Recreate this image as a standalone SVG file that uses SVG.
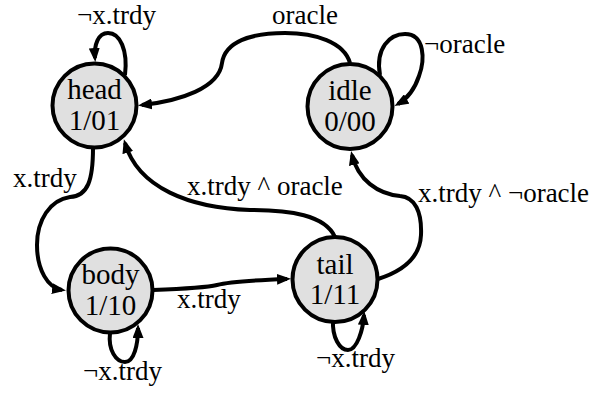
<svg xmlns="http://www.w3.org/2000/svg" width="592" height="394" viewBox="0 0 592 394">
  <style>
    .state circle { fill: #e0e0e0; stroke: #000; stroke-width: 4; }
    .state text { font-family: 'Liberation Serif', 'DejaVu Serif', 'Times New Roman', serif; font-size: 29px; text-anchor: middle; fill: #000; }
    .edge { fill: none; stroke: #000; stroke-width: 4; marker-end: url(#arrow); }
    .label { font-family: 'Liberation Serif', 'DejaVu Serif', 'Times New Roman', serif; font-size: 27px; fill: #000; }
  </style>
  <defs>
    <marker id="arrow" markerUnits="userSpaceOnUse" markerWidth="14" markerHeight="11" refX="10" refY="5.5" orient="auto">
      <path d="M0,0 L14,5.5 L0,11 z" fill="#000"/>
    </marker>
  </defs>
  <rect width="592" height="394" fill="#fff"/>

  <g id="connectors">
    <!-- head self loop -->
    <path class="edge" d="M125,75 C128,50 120,33 108,33 C98,33 94,45 95,58"/>
    <!-- idle -> head (oracle) -->
    <path class="edge" d="M350,63 C344,42 315,33 285,33 C250,33 225,42 222,63 C219,88 180,101 142,105"/>
    <!-- idle self loop -->
    <path class="edge" d="M380,75 C375,48 390,34 405,34 C425,34 425,60 419,76 C414,91 405,100 398,104"/>
    <!-- head -> body (x.trdy) -->
    <path class="edge" d="M93,148 C93,180 88,196 70,197 C50,200 37,220 37,245 C37,270 48,288 62,290"/>
    <!-- tail -> head (x.trdy ^ oracle) -->
    <path class="edge" d="M335,237 C325,215 290,210 250,210 C190,208 138,188 125,143"/>
    <!-- body -> tail (x.trdy) -->
    <path class="edge" d="M153,290 C180,289 205,288 217,285 C228,282 260,280 287,279"/>
    <!-- tail -> idle (x.trdy ^ ¬oracle) -->
    <path class="edge" d="M378,279 C400,272 420,260 421,235 C422,212 415,197 400,196 C378,194 358,180 352,155"/>
    <!-- body self loop -->
    <path class="edge" d="M110,333 C108,350 116,362 125,362 C134,362 138,345 138,328"/>
    <!-- tail self loop -->
    <path class="edge" d="M333,320 C332,338 340,350 348,350 C357,350 363,330 364,315"/>
  </g>

  <g id="head" class="state">
    <circle cx="94.5" cy="105.5" r="42"/>
    <text x="94.5" y="99">head</text>
    <text x="94.5" y="129.5">1/01</text>
  </g>
  <g id="idle" class="state">
    <circle cx="350" cy="106.5" r="42.5"/>
    <text x="350" y="100">idle</text>
    <text x="350" y="130.5">0/00</text>
  </g>
  <g id="body" class="state">
    <circle cx="110.5" cy="290.5" r="42"/>
    <text x="110.5" y="284">body</text>
    <text x="110.5" y="314.5">1/10</text>
  </g>
  <g id="tail" class="state">
    <circle cx="335" cy="279.5" r="42.5"/>
    <text x="335" y="273.5">tail</text>
    <text x="335" y="303.5">1/11</text>
  </g>

  <g id="labels">
    <text class="label" x="77" y="24">¬x.trdy</text>
    <text class="label" x="272" y="24">oracle</text>
    <text class="label" x="424" y="53">¬oracle</text>
    <text class="label" x="13" y="187">x.trdy</text>
    <text class="label" x="187" y="195">x.trdy ^ oracle</text>
    <text class="label" x="418" y="202">x.trdy ^ ¬oracle</text>
    <text class="label" x="177" y="308">x.trdy</text>
    <text class="label" x="83" y="380">¬x.trdy</text>
    <text class="label" x="316" y="367">¬x.trdy</text>
  </g>
</svg>
